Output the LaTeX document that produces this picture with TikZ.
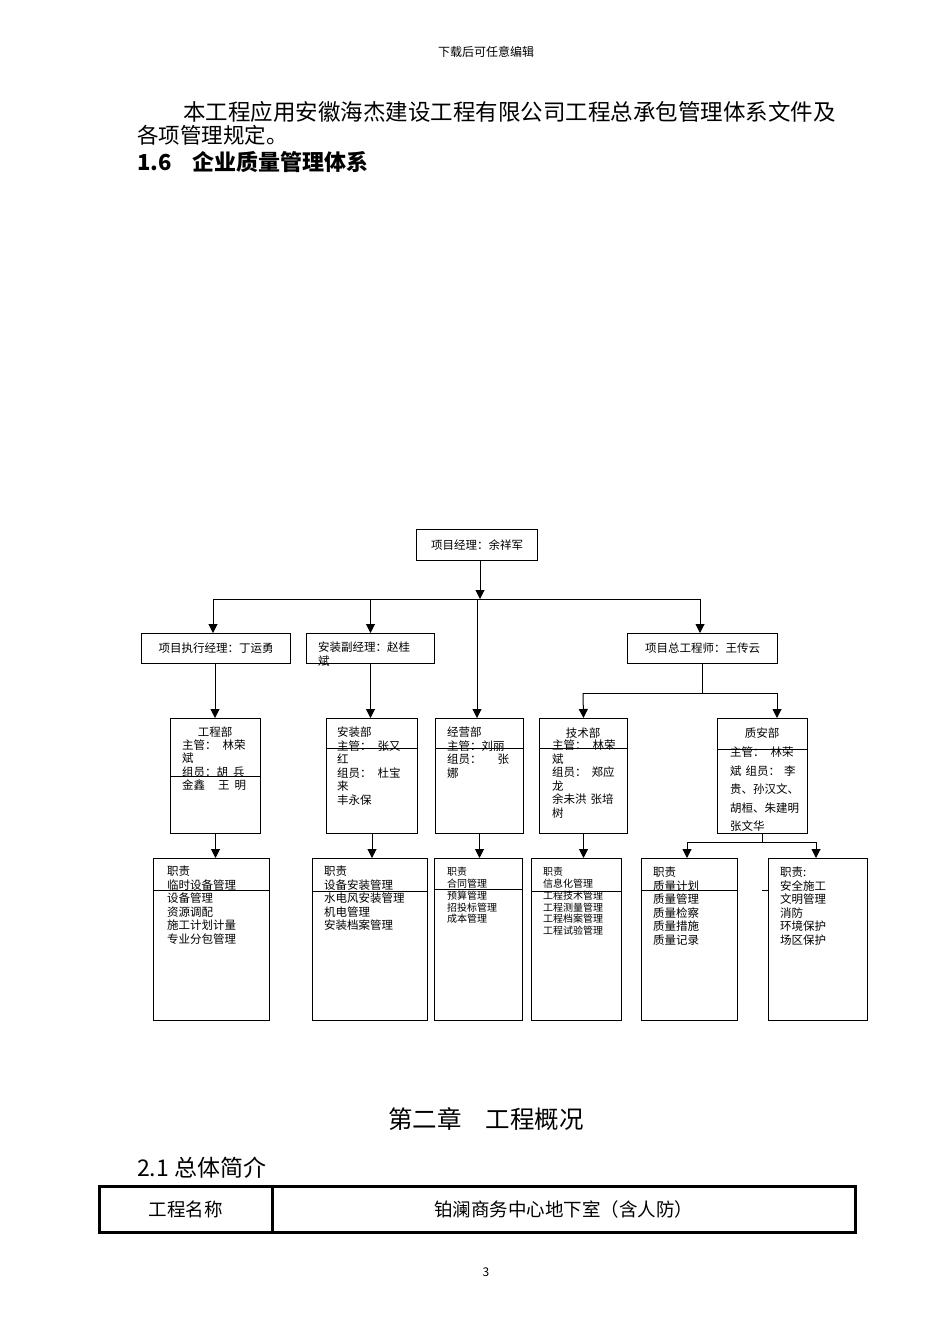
\documentclass[tikz,border=0pt]{standalone}
\usepackage{fontspec}
\setmainfont{Noto Sans CJK SC}
\usetikzlibrary{arrows.meta,positioning}

\begin{document}
\begin{tikzpicture}[
    x=1pt, y=-1pt,
    box/.style={draw, line width=1pt, inner sep=0pt, anchor=north west, font=\fontsize{11.5}{13.5}\selectfont},
    txt/.style={inner sep=0pt, align=left, anchor=north west, font=\fontsize{11.5}{13.5}\selectfont},
    sml/.style={inner sep=0pt, align=left, anchor=north west, font=\fontsize{10}{11.8}\selectfont},
    lbl/.style={inner sep=0pt, font=\fontsize{11.5}{13.5}\selectfont},
    arr/.style={line width=1pt, -{Triangle[width=9pt,length=9pt]}},
    lnk/.style={line width=1pt},
]

% Page
\fill[white] (0,0) rectangle (950,1344);
\useasboundingbox (0,0) rectangle (950,1344);

% Text above
\node[inner sep=0pt, font=\fontsize{12}{14}\selectfont] (hdr) at (486,52) {下载后可任意编辑};
\node[inner sep=0pt, anchor=west, font=\fontsize{22.5}{26}\selectfont] (par1) at (183,112) {本工程应用安徽海杰建设工程有限公司工程总承包管理体系文件及};
\node[inner sep=0pt, anchor=west, font=\fontsize{21.5}{26}\selectfont] (par2) at (137,135) {各项管理规定。};
\node[inner sep=0pt, anchor=west, font=\fontsize{22}{26}\selectfont\bfseries] (sec) at (137,162) {1.6\hspace{21pt}企业质量管理体系};

% Level 1
\node[box, minimum width=121pt, minimum height=31pt] (pm) at (416,529) {项目经理：余祥军};
\coordinate (busL) at (213,599);
\coordinate (busR) at (700,599);

% Level 2
\node[box, minimum width=149pt, minimum height=30pt] (exec) at (141,633) {项目执行经理：丁运勇};
\node[box, minimum width=128pt, minimum height=30pt] (azfj) at (306,633) {};
\node[txt] (azfjt) at (318,642) {安装副经理：赵桂\\斌};
\node[box, minimum width=150pt, minimum height=30pt] (zgcs) at (627,633) {项目总工程师：王传云};
\coordinate (zgj) at (702,693);

% Level 3
\node[box, minimum width=90pt, minimum height=115pt] (gcb) at (170,718) {};
\node[lbl] (gcbt) at (215,732) {工程部};
\node[txt] (gcbx) at (182,739.5) {主管：\hspace{6pt}林荣\\斌\\组员：胡\hspace{5pt}兵\\金鑫\hspace{13pt}王\hspace{5pt}明};

\node[box, minimum width=91pt, minimum height=115pt] (azb) at (326,718) {};
\node[txt] (azbx) at (337,727) {安装部\\主管：\hspace{6pt}张又\\红\\组员：\hspace{6pt}杜宝\\来\\丰永保};

\node[box, minimum width=88pt, minimum height=115pt] (jyb) at (435,718) {};
\node[txt] (jybx) at (447,727) {经营部\\主管：刘丽\\组员：\hspace{16pt}张\\娜};

\node[box, minimum width=88pt, minimum height=115pt] (jsb) at (539,718) {};
\node[lbl] (jsbt) at (583,733) {技术部};
\node[txt] (jsbx) at (552,740) {主管：\hspace{6pt}林荣\\斌\\组员：\hspace{5pt}郑应\\龙\\余未洪\hspace{4pt}张培\\树};

\node[box, minimum width=90pt, minimum height=115pt] (zab) at (717,718) {};
\node[lbl] (zabt) at (762,733) {质安部};
\node[txt, font=\fontsize{11.5}{18.5}\selectfont] (zabx) at (730,747) {主管：\hspace{6pt}林荣\\斌\hspace{4pt}组员：\hspace{4pt}李\\贵、孙汉文、\\胡桓、朱建明\\张文华};
\coordinate (zaj) at (762,842);

% Level 4
\node[box, minimum width=116pt, minimum height=162pt] (gcbzz) at (153,858) {};
\node[txt] (gcbzzx) at (167,866) {职责\\临时设备管理\\设备管理\\资源调配\\施工计划计量\\专业分包管理};

\node[box, minimum width=115pt, minimum height=162pt] (azbzz) at (312,858) {};
\node[txt] (azbzzx) at (324,866) {职责\\设备安装管理\\水电风安装管理\\机电管理\\安装档案管理};

\node[box, minimum width=88pt, minimum height=162pt] (jybzz) at (434,858) {};
\node[sml] (jybzzx) at (447,867) {职责\\合同管理\\预算管理\\招投标管理\\成本管理};

\node[box, minimum width=90pt, minimum height=162pt] (jsbzz) at (531,858) {};
\node[sml] (jsbzzx) at (543,867) {职责\\信息化管理\\工程技术管理\\工程测量管理\\工程档案管理\\工程试验管理};

\node[box, minimum width=96pt, minimum height=162pt] (zlzz) at (641,858) {};
\node[txt] (zlzzx) at (653,867) {职责\\质量计划\\质量管理\\质量检察\\质量措施\\质量记录};

\node[box, minimum width=99pt, minimum height=162pt] (aqzz) at (768,858) {};
\node[txt] (aqzzx) at (780,867) {职责:\\安全施工\\文明管理\\消防\\环境保护\\场区保护};

% Dividers
\draw[lnk] (gcb.west |- 0,776) -- (gcb.east |- 0,776);
\draw[lnk] (azb.west |- 0,748) -- (azb.east |- 0,748);
\draw[lnk] (jyb.west |- 0,748) -- (jyb.east |- 0,748);
\draw[lnk] (jsb.west |- 0,748) -- (jsb.east |- 0,748);
\draw[lnk] (zab.west |- 0,749) -- (zab.east |- 0,749);
\draw[lnk] (gcbzz.west |- 0,890) -- (gcbzz.east |- 0,890);
\draw[lnk] (azbzz.west |- 0,891) -- (azbzz.east |- 0,891);
\draw[lnk] (jybzz.west |- 0,889) -- (jybzz.east |- 0,889);
\draw[lnk] (jsbzz.west |- 0,891) -- (jsbzz.east |- 0,891);
\draw[lnk] (zlzz.west |- 0,890) -- (zlzz.east |- 0,890);
\draw[lnk] (762,890) -- (aqzz.west |- 0,890);

% Connectors
\draw[arr] (pm.south -| 480,0) -- (480,599);
\draw[lnk] (busL) -- (busR);
\draw[arr] (busL) -- (busL |- exec.north);
\draw[arr] (azfj.north |- busL) -- (azfj.north);
\draw[arr] (busR) -- (busR |- zgcs.north);
\draw[arr] (477,599) -- (jyb.north -| 477,0);

\draw[arr] (exec.south -| gcbt) -- (gcb.north -| gcbt);
\draw[arr] (azfj.south) -- (azfj.south |- azb.north);
\draw[lnk] (zgcs.south -| zgj) -- (zgj);
\draw[lnk] (jsbt |- zgj) -- (777,693);
\draw[arr] (jsbt |- zgj) -- (jsb.north);
\draw[arr] (777,693) -- (zab.north -| 777,0);

\draw[arr] (gcb.south) -- (gcb.south |- gcbzz.north);
\draw[arr] (azb.south) -- (azb.south |- azbzz.north);
\draw[arr] (jyb.south) -- (jyb.south |- jybzz.north);
\draw[arr] (jsb.south) -- (jsb.south |- jsbzz.north);
\draw[lnk] (zab.south -| zaj) -- (zaj);
\draw[lnk] (687,842) -- (816,842);
\draw[arr] (687,842) -- (zlzz.north -| 687,0);
\draw[arr] (816,842) -- (aqzz.north -| 816,0);

% Text below
\node[inner sep=0pt, font=\fontsize{24.5}{28}\selectfont] (ch2) at (486,1119) {第二章\hspace{24pt}工程概况};
\node[inner sep=0pt, anchor=west, font=\fontsize{23}{28}\selectfont] (sec21) at (137,1168) {2.1 总体简介};
\node[draw, line width=2.5pt, inner sep=0pt, anchor=north west, minimum width=173pt, minimum height=46pt, font=\fontsize{18.5}{22}\selectfont] (cellA) at (98,1185) {工程名称};
\node[draw, line width=2.5pt, inner sep=0pt, anchor=north west, minimum width=583pt, minimum height=46pt, font=\fontsize{18.5}{22}\selectfont] (cellB) at (271,1185) {铂澜商务中心地下室（含人防）};
\node[inner sep=0pt, font=\fontsize{12}{14}\selectfont] (pgno) at (486,1272) {3};

\end{tikzpicture}
\end{document}
